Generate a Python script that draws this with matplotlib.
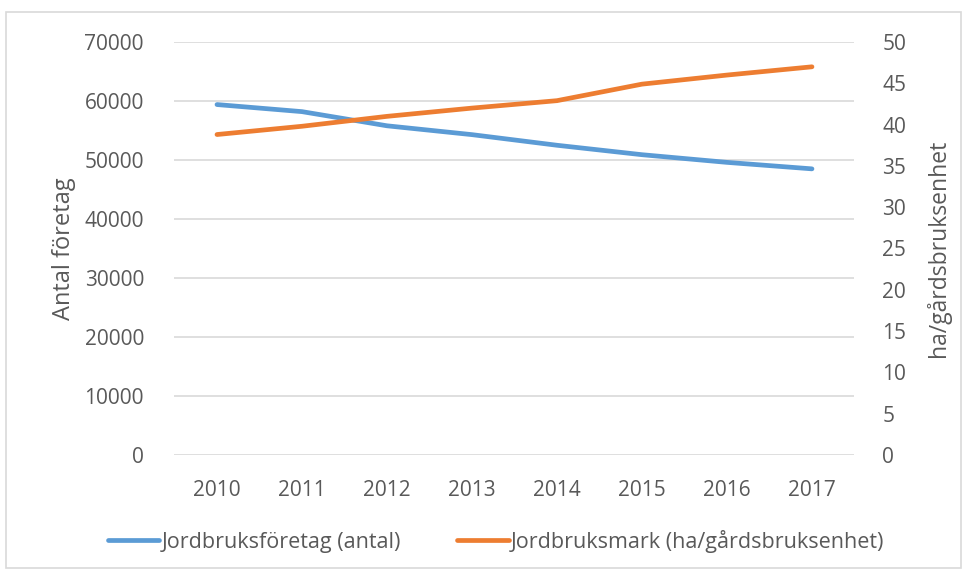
import matplotlib
matplotlib.use("Agg")
import matplotlib.pyplot as plt
from matplotlib.patches import Rectangle

# data
years = ["2010", "2011", "2012", "2013", "2014", "2015", "2016", "2017"]
foretag = [59400, 58200, 55800, 54300, 52500, 50900, 49600, 48500]
mark_ha = [38.8, 39.8, 41.0, 42.0, 42.9, 44.9, 46.0, 47.0]

BLUE = "#5b9bd5"
ORANGE = "#ed7d31"
GREY = "#595959"
GRID = "#d9d9d9"

plt.rcParams["font.family"] = ["Open Sans", "DejaVu Sans"]
plt.rcParams["font.size"] = 14

fig = plt.figure(figsize=(9.63, 5.71), dpi=100)
fig.patches.append(Rectangle((6 / 963, 3 / 571), 955 / 963, 556 / 571,
                             transform=fig.transFigure, fill=False,
                             edgecolor=GRID, linewidth=1.2))

ax = fig.add_axes([0.1812, 0.2032, 0.7061, 0.7232])
x = range(len(years))
l1, = ax.plot(x, foretag, color=BLUE, linewidth=3.4, solid_capstyle="round",
              label="Jordbruksföretag (antal)")
ax.set_xlim(-0.5, len(years) - 0.5)
ax.set_ylim(0, 70000)
ax.set_yticks(range(0, 70001, 10000))
ax.set_xticks(list(x))
ax.set_xticklabels(years)
ax.grid(axis="y", color=GRID, linewidth=1.2)
ax.set_axisbelow(True)
ax.set_ylabel("Antal företag", color=GREY, fontsize=17, labelpad=6)

ax2 = ax.twinx()
l2, = ax2.plot(x, mark_ha, color=ORANGE, linewidth=3.4, solid_capstyle="round",
               label="Jordbruksmark (ha/gårdsbruksenhet)")
ax2.set_ylim(0, 50)
ax2.set_yticks(range(0, 51, 5))
ax2.set_ylabel("ha/gårdsbruksenhet", color=GREY, fontsize=16.5, labelpad=14)

for a in (ax, ax2):
    for s in a.spines.values():
        s.set_visible(False)
    a.tick_params(length=0, colors=GREY, labelsize=15)
ax.tick_params(axis="y", pad=22)
ax.tick_params(axis="x", pad=18)
ax2.tick_params(axis="y", pad=20)

fig.legend(handles=[l1, l2], loc="center", bbox_to_anchor=(0.515, 0.052),
           ncol=2, frameon=False, handlelength=2.4, handletextpad=0.1,
           columnspacing=2.6, labelcolor=GREY, fontsize=15.5)

fig.savefig("out.png", dpi=100)
